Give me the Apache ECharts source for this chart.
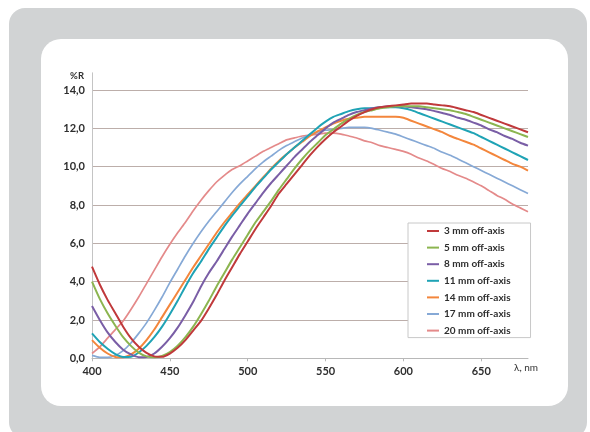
<!DOCTYPE html>
<html>
<head>
<meta charset="utf-8">
<script src="https://cdn.jsdelivr.net/npm/echarts@6/dist/echarts.min.js"></script>
<style>
  html, body { margin: 0; padding: 0; background: #ffffff; }
  #wrap { position: relative; width: 590px; height: 432px; overflow: hidden; }
  #gray { position: absolute; left: 9px; top: 8px; width: 578px; height: 430px; border-radius: 16px; background: #d1d3d4; }
  #white { position: absolute; left: 41px; top: 39px; width: 527px; height: 367px; border-radius: 20px; background: #ffffff; }
  #chart { position: absolute; left: 0; top: 0; width: 590px; height: 432px; }
</style>
</head>
<body>
<div id="wrap">
  <div id="gray"></div>
  <div id="white"></div>
  <div id="chart"></div>
</div>
<script>
const wavelengths = [400,405,410,415,420,425,430,435,440,445,450,455,460,465,470,475,480,485,490,495,500,505,510,515,520,525,530,535,540,545,550,555,560,565,570,575,580,585,590,595,600,605,610,615,620,625,630,635,640,645,650,655,660,665,670,675,680];

const mm3 = [4.78,3.85,3.05,2.35,1.65,1.05,0.6,0.28,0.1,0.08,0.25,0.55,0.95,1.45,1.95,2.6,3.3,4.05,4.75,5.45,6.1,6.75,7.35,7.95,8.6,9.1,9.6,10.1,10.6,11.05,11.45,11.8,12.1,12.4,12.65,12.85,13.0,13.1,13.15,13.2,13.25,13.3,13.3,13.3,13.25,13.2,13.15,13.05,12.95,12.85,12.7,12.55,12.4,12.25,12.1,11.95,11.8];
const mm5 = [4.0,3.1,2.35,1.7,1.1,0.65,0.3,0.1,0.05,0.12,0.32,0.65,1.1,1.65,2.3,3.0,3.75,4.45,5.15,5.8,6.45,7.1,7.65,8.2,8.8,9.35,9.9,10.4,10.85,11.25,11.65,11.95,12.25,12.5,12.7,12.85,12.95,13.05,13.1,13.15,13.15,13.15,13.15,13.1,13.05,13.0,12.95,12.85,12.75,12.6,12.45,12.3,12.15,12.0,11.85,11.7,11.55];
const mm8 = [2.73,2.0,1.35,0.85,0.45,0.2,0.06,0.07,0.25,0.6,1.05,1.6,2.25,2.95,3.75,4.45,5.05,5.7,6.35,6.95,7.55,8.1,8.65,9.15,9.6,10.05,10.5,10.9,11.3,11.65,12.0,12.3,12.5,12.7,12.85,12.95,13.05,13.1,13.15,13.15,13.15,13.1,13.05,13.0,12.9,12.8,12.7,12.55,12.45,12.3,12.15,11.95,11.8,11.6,11.45,11.25,11.1];
const mm11 = [1.3,0.85,0.5,0.22,0.07,0.08,0.3,0.65,1.1,1.65,2.3,3.0,3.75,4.45,5.05,5.7,6.3,6.9,7.45,7.95,8.45,8.95,9.4,9.85,10.25,10.65,11.0,11.35,11.7,12.05,12.35,12.6,12.75,12.9,13.0,13.05,13.05,13.1,13.1,13.1,13.05,12.95,12.8,12.65,12.5,12.35,12.2,12.05,11.9,11.75,11.55,11.35,11.15,10.95,10.75,10.55,10.35];
const mm14 = [0.95,0.55,0.25,0.07,0.05,0.2,0.5,0.95,1.5,2.15,2.8,3.45,4.1,4.75,5.35,5.95,6.55,7.1,7.6,8.1,8.55,9.0,9.45,9.9,10.3,10.65,11.0,11.3,11.6,11.85,12.05,12.25,12.4,12.5,12.55,12.6,12.6,12.6,12.6,12.6,12.55,12.4,12.25,12.1,11.95,11.8,11.6,11.45,11.3,11.15,10.95,10.75,10.55,10.35,10.15,10.0,9.8];
const mm17 = [0.15,0.05,0.05,0.15,0.4,0.8,1.3,1.85,2.5,3.2,3.95,4.65,5.35,6.0,6.6,7.15,7.65,8.15,8.65,9.1,9.5,9.9,10.25,10.55,10.85,11.1,11.3,11.5,11.65,11.8,11.9,11.95,12.0,12.05,12.05,12.05,12.0,11.9,11.8,11.7,11.55,11.4,11.25,11.1,10.95,10.75,10.6,10.4,10.2,10.0,9.8,9.6,9.4,9.2,9.0,8.8,8.6];
const mm20 = [0.25,0.6,1.05,1.5,1.95,2.55,3.2,3.9,4.6,5.3,5.95,6.55,7.1,7.7,8.25,8.75,9.2,9.55,9.85,10.05,10.3,10.55,10.8,11.0,11.2,11.4,11.5,11.6,11.65,11.7,11.75,11.75,11.7,11.6,11.5,11.35,11.25,11.1,11.0,10.9,10.8,10.65,10.45,10.3,10.1,9.9,9.75,9.55,9.4,9.2,9.0,8.75,8.5,8.3,8.05,7.85,7.65];

const seriesNames = ['3 mm off-axis','5 mm off-axis','8 mm off-axis','11 mm off-axis','14 mm off-axis','17 mm off-axis','20 mm off-axis'];
const seriesValues = [mm3, mm5, mm8, mm11, mm14, mm17, mm20];
const seriesColors = ['#c0393b','#8cb550','#7a5ea6','#1fa3b5','#f3863c','#86a9d6','#e48a8a'];
const seriesWidths = [2, 2, 2, 2, 2, 1.7, 1.7];

const yTicks = { min: 0, max: 14, step: 2 };
const xTicks = { min: 400, max: 680, step: 50 };

const FONT = 'Lato, "Open Sans", sans-serif';
const chart = echarts.init(document.getElementById('chart'), null, { renderer: 'canvas' });

chart.setOption({
  animation: false,
  backgroundColor: 'transparent',
  textStyle: { fontFamily: FONT },
  grid: { left: 92, right: 62, top: 72.8, bottom: 73.7, containLabel: false },
  xAxis: {
    type: 'value',
    min: xTicks.min, max: xTicks.max, interval: xTicks.step,
    name: 'λ, nm',
    nameLocation: 'end',
    nameGap: -2,
    nameTextStyle: { color: '#333', fontSize: 10, fontWeight: 'normal', align: 'center', verticalAlign: 'top', padding: [4, 0, 0, 0], fontFamily: FONT },
    axisLine: { show: true, lineStyle: { color: '#b8b8b8', width: 1 } },
    axisTick: { show: true, length: 3, lineStyle: { color: '#b8b8b8' } },
    axisLabel: { showMaxLabel: false, color: '#2e2e2e', fontSize: 11, fontWeight: 'bold', margin: 8, fontFamily: FONT },
    splitLine: { show: false }
  },
  yAxis: {
    type: 'value',
    min: yTicks.min, max: 14.9, interval: yTicks.step,
    name: '%R',
    nameLocation: 'end',
    nameGap: -3,
    nameTextStyle: { color: '#2e2e2e', fontSize: 9.5, fontWeight: 'bold', align: 'right', verticalAlign: 'middle', padding: [0, 8, 0, 0], fontFamily: FONT },
    axisLine: { show: true, lineStyle: { color: '#c4c4c4', width: 1 } },
    axisTick: { show: false },
    axisLabel: {
      showMaxLabel: false, color: '#2e2e2e', fontSize: 11, fontWeight: 'bold', margin: 7, fontFamily: FONT,
      formatter: v => v.toFixed(1).replace('.', ',')
    },
    splitLine: { show: true, showMaxLine: false, showMinLine: false, lineStyle: { color: '#bcaeaa', width: 1 } }
  },
  legend: {
    orient: 'vertical',
    left: 408, top: 223,
    padding: [2, 20, 1, 19],
    itemWidth: 12, itemHeight: 2, itemGap: 4.6,
    backgroundColor: '#ffffff',
    borderColor: '#c8c8c8', borderWidth: 1,
    icon: 'rect',
    textStyle: { color: '#2e2e2e', fontSize: 10, fontWeight: 'bold', lineHeight: 12, fontFamily: FONT },
    data: seriesNames
  },
  series: seriesNames.map((name, k) => ({
    name,
    type: 'line',
    symbol: 'none',
    smooth: 0.2,
    color: seriesColors[k],
    lineStyle: { color: seriesColors[k], width: seriesWidths[k] },
    data: wavelengths.map((w, i) => [w, seriesValues[k][i]]),
    z: 10 - k
  }))
});
</script>
</body>
</html>
